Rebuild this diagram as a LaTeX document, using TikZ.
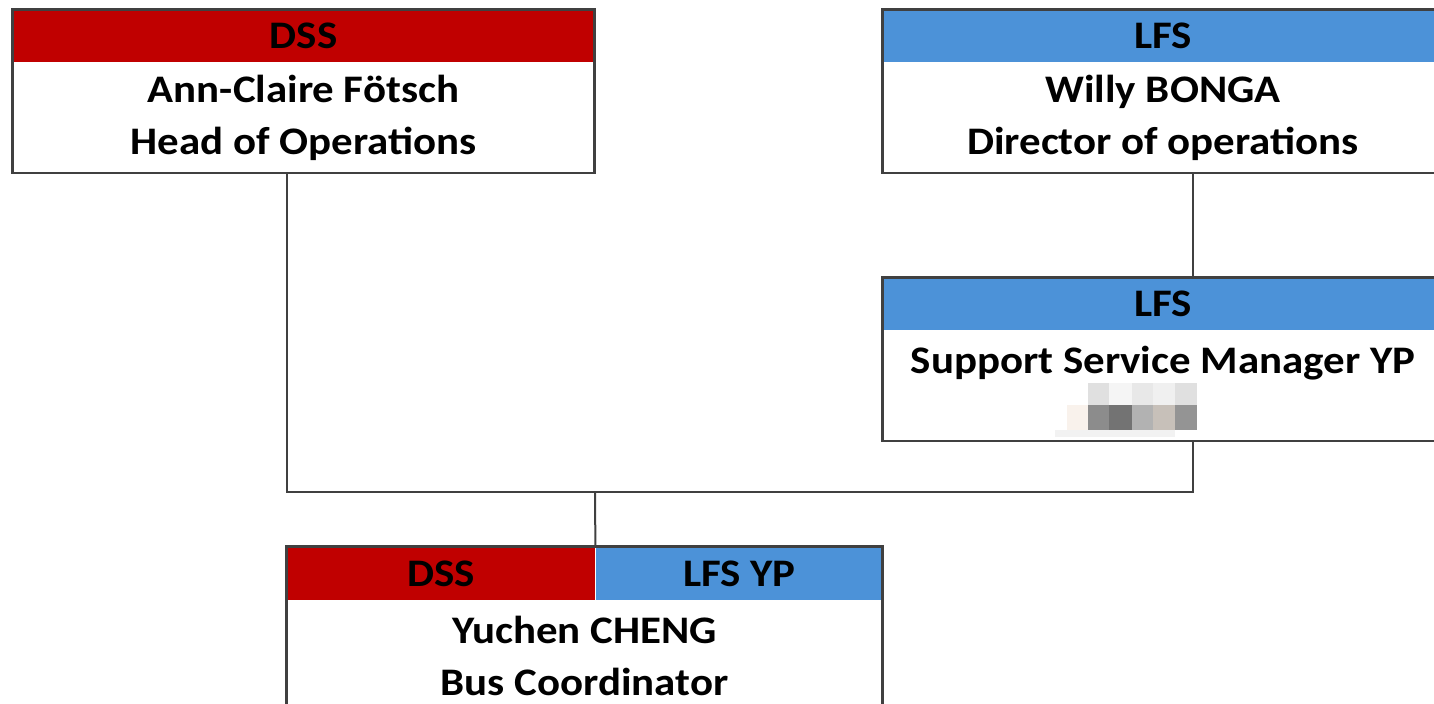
\documentclass[tikz,border=0pt]{standalone}
\usepackage{fontspec}
\setmainfont{Carlito}[FakeStretch=1.1]
\usetikzlibrary{positioning}
\definecolor{dssred}{RGB}{192,0,0}
\definecolor{lfsblue}{RGB}{76,146,216}
\definecolor{edgegray}{RGB}{64,64,64}
\tikzset{
  head/.style={fill=#1, minimum height=26pt, inner sep=0pt,
    font=\fontsize{19.5}{26}\selectfont\bfseries},
  body/.style={minimum height=55pt, inner sep=0pt, align=center,
    font=\fontsize{19.5}{26}\selectfont\bfseries},
  frame/.style={draw=edgegray, line width=1.2pt},
  link/.style={draw=edgegray, line width=1pt},
}

\begin{document}
\begin{tikzpicture}[x=0.5pt, y=-0.5pt]
      \useasboundingbox (0,0) rectangle (1434,704);
      \clip (0,0) rectangle (1434,704);
      % DSS head of operations
      \node[head=dssred, minimum width=290.5pt] (dssHead) at (303.5,36) {DSS};
      \node[body, minimum width=290.5pt, below=0pt of dssHead] (dssBody)
        {Ann-Claire Fötsch\\Head of Operations};
      \draw[frame] (dssHead.north west) rectangle (dssBody.south east);
      % LFS director
      \node[head=lfsblue, minimum width=280pt] (lfsHead) at (1163,36) {LFS};
      \node[body, minimum width=280pt, below=0pt of lfsHead] (lfsBody)
        {Willy BONGA\\Director of operations};
      \draw[frame] (lfsHead.north west) rectangle (lfsBody.south east);
      % LFS support manager
      \node[head=lfsblue, minimum width=280pt] (supHead) at (1163,304) {LFS};
      \node[body, minimum width=280pt, below=0pt of supHead] (supBody)
        {Support Service Manager YP\\\phantom{X}};
      \draw[frame] (supHead.north west) rectangle (supBody.south east);
      % blurred name
      \fill[black!5] (1055,430) rectangle (1175,437);
      \fill[black!12] (1088,383) rectangle (1109,405);
      \fill[black!4] (1109,383) rectangle (1132,405);
      \fill[black!9] (1132,383) rectangle (1153,405);
      \fill[black!6] (1153,383) rectangle (1175,405);
      \fill[black!12] (1175,383) rectangle (1197,405);
      \fill[brown!10] (1067,405) rectangle (1088,430);
      \fill[black!45] (1088,405) rectangle (1109,430);
      \fill[black!55] (1109,405) rectangle (1132,430);
      \fill[black!30] (1132,405) rectangle (1153,430);
      \fill[brown!35!black!30] (1153,405) rectangle (1175,430);
      \fill[black!42] (1175,405) rectangle (1197,430);
      % bus coordinator
      \node[head=dssred, minimum width=154pt, minimum height=26.5pt] (busDss) at (441,573.5) {DSS};
      \node[head=lfsblue, minimum width=143.5pt, minimum height=26.5pt, right=0pt of busDss] (busLfs) {LFS YP};
      \node[body, minimum width=297.5pt, anchor=north west] (busBody) at (busDss.south west)
        {Yuchen CHENG\\Bus Coordinator};
      \draw[frame] (busDss.north west) rectangle (busBody.south east);
      % connectors
      \coordinate (spine) at (1193,0);
      \coordinate (join) at (595,492);
      \draw[link] (lfsBody.south -| spine) -- (supHead.north -| spine);
      \draw[link] (dssBody.south -| busDss.west) |- (join);
      \draw[link] (supBody.south -| spine) |- (join);
      \draw[link] (join) -- (busDss.north east);
    \end{tikzpicture}
\end{document}
